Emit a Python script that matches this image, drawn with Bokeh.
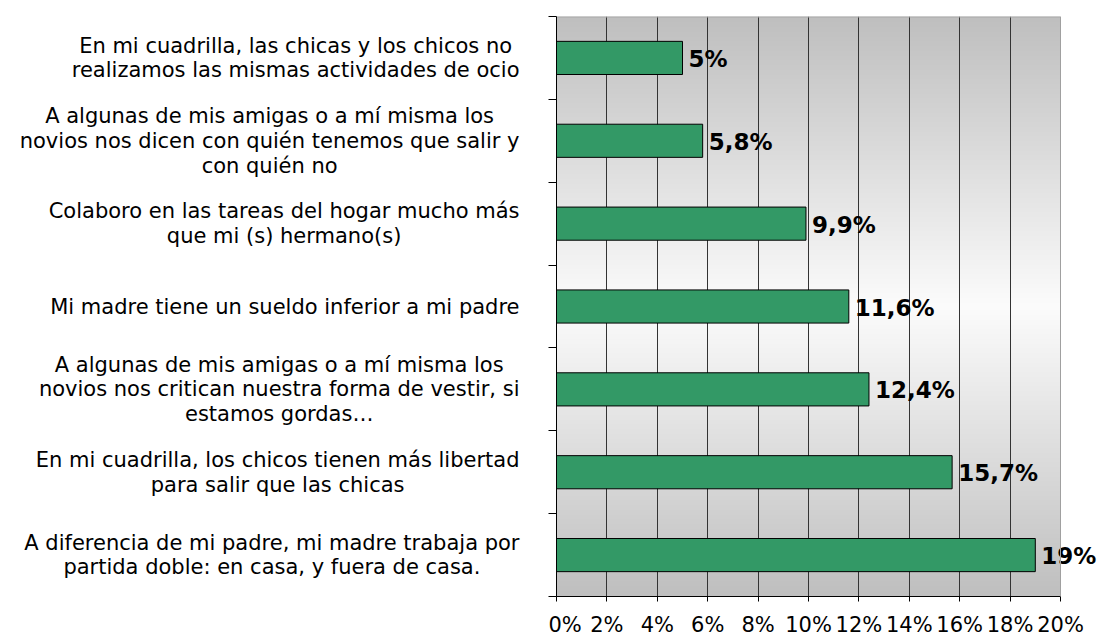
import numpy as np
from bokeh.plotting import figure
from bokeh.layouts import row
from bokeh.models import Range1d, FixedTicker, ColumnDataSource, Span
from bokeh.core.properties import value
from bokeh.embed import file_html
from bokeh.resources import INLINE

# ---- data ----
categories = [
    "En mi cuadrilla, las chicas y los chicos no\nrealizamos las mismas actividades de ocio",
    "A algunas de mis amigas o a mí misma los\nnovios nos dicen con quién tenemos que salir y\ncon quién no",
    "Colaboro en las tareas del hogar mucho más\nque mi (s) hermano(s)",
    "Mi madre tiene un sueldo inferior a mi padre",
    "A algunas de mis amigas o a mí misma los\nnovios nos critican nuestra forma de vestir, si\nestamos gordas…",
    "En mi cuadrilla, los chicos tienen más libertad\npara salir que las chicas",
    "A diferencia de mi padre, mi madre trabaja por\npartida doble: en casa, y fuera de casa.",
]
values = [5, 5.8, 9.9, 11.6, 12.4, 15.7, 19]
value_labels = ["5%", "5,8%", "9,9%", "11,6%", "12,4%", "15,7%", "19%"]
x_ticks = [0, 2, 4, 6, 8, 10, 12, 14, 16, 18, 20]
x_tick_labels = ["0%", "2%", "4%", "6%", "8%", "10%", "12%", "14%", "16%", "18%", "20%"]

FONT = "DejaVu Sans"
n = len(categories)
ypos = [n - 0.5 - i for i in range(n)]
xmax = x_ticks[-1]

H = 639
TOP = 16
BOTTOM = 42
LEFT_W = 548
AXIS_W = 8
PLOT_W = 504          # width of 0..20 %
EXTRA_W = 40          # room for value labels beyond 20 %
RIGHT_PAD = 4

y_range = Range1d(0, n)

# ---------- left figure: category labels ----------
pl = figure(width=LEFT_W, height=H, x_range=Range1d(0, LEFT_W), y_range=y_range,
            output_backend="svg", toolbar_location=None,
            x_axis_location=None, y_axis_location=None,
            min_border_left=0, min_border_right=0, min_border_top=TOP, min_border_bottom=BOTTOM)
pl.outline_line_color = None
pl.grid.grid_line_color = None
pl.background_fill_color = "#ffffff"
pl.border_fill_color = "#ffffff"
cat_src = ColumnDataSource(dict(y=ypos, t=categories, x=[LEFT_W - 29] * n))
txt_kw = dict(x="x", y="y", text="t", source=cat_src, text_baseline="middle",
              text_font=value(FONT), text_font_size="21px", text_color="#000000",
              text_line_height=1.03)
try:
    pl.text(anchor=value("center_right"), text_align="center", **txt_kw)
except Exception:
    pl.text(text_align="right", **txt_kw)

# ---------- right figure: chart ----------
frame_w = PLOT_W + EXTRA_W
x_end = xmax * frame_w / PLOT_W
p = figure(width=AXIS_W + frame_w + RIGHT_PAD, height=H,
           x_range=Range1d(0, x_end), y_range=y_range,
           output_backend="svg", toolbar_location=None,
           min_border_left=AXIS_W, min_border_right=RIGHT_PAD,
           min_border_top=TOP, min_border_bottom=BOTTOM)
p.background_fill_color = "#ffffff"
p.border_fill_color = "#ffffff"
p.outline_line_color = None

# vertical gradient background (gray - white - gray)
rows = 581
t = np.abs(np.linspace(-1, 1, rows))
g = (252 - (252 - 191) * t).astype(np.uint32)
img = np.empty((rows, 1), dtype=np.uint32)
view = img.view(dtype=np.uint8).reshape((rows, 1, 4))
view[:, 0, 0] = g
view[:, 0, 1] = g
view[:, 0, 2] = g
view[:, 0, 3] = 255
p.image_rgba(image=[img], x=0, y=0, dw=xmax, dh=n, level="image")

# grid
p.ygrid.grid_line_color = None
p.xgrid.ticker = FixedTicker(ticks=x_ticks[1:-1])
p.xgrid.grid_line_color = "#333333"
p.xgrid.grid_line_width = 1

# plot-area border (top and right)
p.add_layout(Span(location=xmax, dimension="height", line_color="#a0a0a0", line_width=1))
p.segment(x0=[0], x1=[xmax], y0=[n], y1=[n], line_color="#a8a8a8", line_width=2)

# bars
src = ColumnDataSource(dict(y=ypos, v=values, lbl=value_labels))
p.hbar(y="y", right="v", left=0, height=0.4, source=src,
       fill_color="#339966", line_color="#000000", line_width=1)

# value labels
p.text(x="v", y="y", text="lbl", source=src, x_offset=6, y_offset=1,
       text_baseline="middle", text_align="left",
       text_font=value(FONT), text_font_style="bold", text_font_size="23px",
       text_color="#000000")

# x axis
p.xaxis.bounds = (0, xmax)
p.xaxis.ticker = FixedTicker(ticks=x_ticks)
p.xaxis.major_label_overrides = {k: v for k, v in zip(x_ticks, x_tick_labels)}
p.xaxis.major_label_text_font = FONT
p.xaxis.major_label_text_font_size = "21px"
p.xaxis.major_label_text_color = "#000000"
p.xaxis.axis_line_color = "#000000"
p.xaxis.major_tick_line_color = "#000000"
p.xaxis.major_tick_out = 5
p.xaxis.major_tick_in = 0
p.xaxis.minor_tick_line_color = None
p.xaxis.major_label_standoff = 11

# y axis (ticks between categories, no labels)
p.yaxis.ticker = FixedTicker(ticks=list(range(n + 1)))
p.yaxis.major_label_overrides = {k: "" for k in range(n + 1)}
p.yaxis.major_label_standoff = 0
p.yaxis.axis_line_color = "#000000"
p.yaxis.major_tick_line_color = "#000000"
p.yaxis.major_tick_out = 8
p.yaxis.major_tick_in = 0
p.yaxis.minor_tick_line_color = None

layout = row(pl, p)
open("out.html", "w").write(file_html(layout, INLINE))
